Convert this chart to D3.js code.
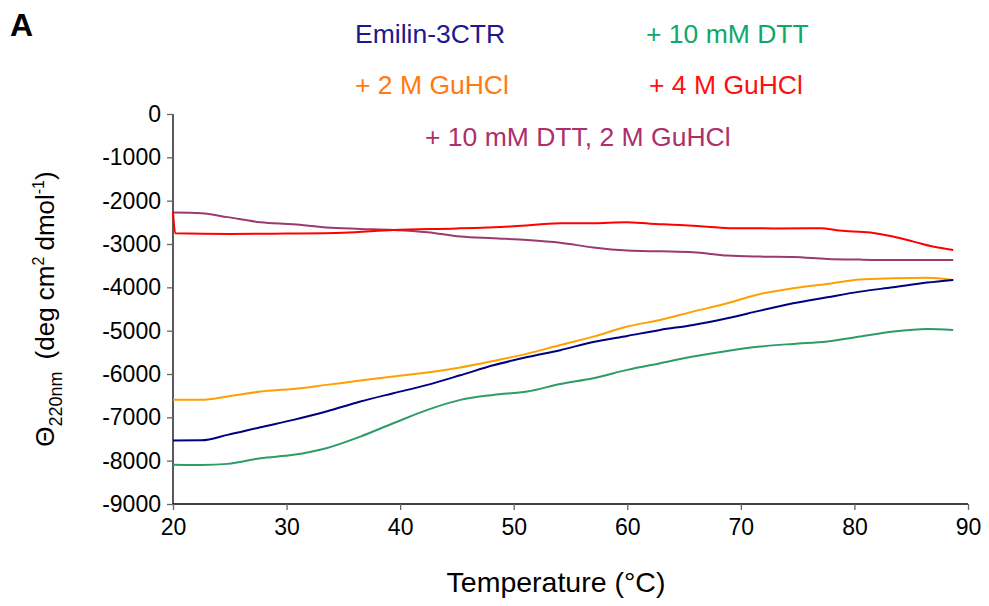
<!DOCTYPE html>
<html><head><meta charset="utf-8">
<script src="https://cdn.jsdelivr.net/npm/d3@7"></script>
<style>body{margin:0;background:#fff}svg{display:block;font-family:"Liberation Sans",Arial,sans-serif}</style>
</head><body><svg id="c" width="989" height="606"></svg>
<script>
const temps = [20, 22.5, 24.8, 27.7, 30.6, 33.5, 36.5, 39.4, 42.4, 45.3, 48.2, 51.2, 54.1, 57.0, 60.0, 62.9, 65.8, 68.8, 71.7, 74.6, 77.6, 80.5, 83.4, 86.4, 88.7];
const emilin = [-7536, -7530, -7405, -7228, -7059, -6867, -6636, -6444, -6251, -6030, -5800, -5610, -5450, -5260, -5121, -4983, -4867, -4713, -4537, -4368, -4229, -4099, -3999, -3891, -3829];
const dtt = [-8097, -8100, -8074, -7943, -7866, -7712, -7444, -7136, -6828, -6597, -6482, -6405, -6230, -6098, -5905, -5751, -5598, -5467, -5367, -5305, -5252, -5137, -5021, -4960, -4983];
const gu2 = [-6597, -6597, -6521, -6405, -6344, -6251, -6152, -6059, -5967, -5850, -5700, -5530, -5330, -5137, -4906, -4752, -4560, -4368, -4152, -4022, -3922, -3820, -3791, -3776, -3829];
const dttGu2 = [-2275, -2290, -2380, -2498, -2545, -2622, -2652, -2676, -2729, -2829, -2868, -2907, -2970, -3080, -3150, -3170, -3191, -3268, -3291, -3300, -3345, -3360, -3368, -3368, -3368];
const redTemps = [20, 20.2, 25, 30, 35, 39.4, 45, 50, 54.1, 57, 59.9, 62, 64.6, 67, 69.3, 73, 77, 78.7, 81.4, 83.4, 85.2, 86.9, 88.7];
const gu4 = [-2254, -2752, -2770, -2760, -2740, -2676, -2640, -2590, -2522, -2520, -2500, -2530, -2560, -2600, -2637, -2640, -2637, -2690, -2737, -2829, -2945, -3060, -3137];
const xTicks = [20, 30, 40, 50, 60, 70, 80, 90];
const yTicks = [0, -1000, -2000, -3000, -4000, -5000, -6000, -7000, -8000, -9000];

const series = [
  {name: "+ 10 mM DTT, 2 M GuHCl", t: temps, v: dttGu2, line: "#9c3a70", text: "#ad2f6c"},
  {name: "+ 4 M GuHCl", t: redTemps, v: gu4, line: "#ff0000", text: "#ff1010"},
  {name: "+ 2 M GuHCl", t: temps, v: gu2, line: "#ffa000", text: "#ff7b12"},
  {name: "+ 10 mM DTT", t: temps, v: dtt, line: "#2e9b68", text: "#0ea86a"},
  {name: "Emilin-3CTR", t: temps, v: emilin, line: "#000080", text: "#1c1a8c"}
];

const svg = d3.select("#c");
const L = 173, R = 968, T = 114, B = 504;
const x = d3.scaleLinear().domain([20, 90]).range([L, R]);
const y = d3.scaleLinear().domain([-9000, 0]).range([B, T]);

svg.append("text").attr("x", 10).attr("y", 36).attr("font-size", 32).attr("font-weight", "bold").text("A");

// axes
const xa = svg.append("g").attr("transform", `translate(0,${B})`)
  .call(d3.axisBottom(x).tickValues(xTicks).tickSize(6).tickPadding(9).tickFormat(d3.format("d")));
const ya = svg.append("g").attr("transform", `translate(${L},0)`)
  .call(d3.axisLeft(y).tickValues(yTicks).tickSize(6).tickPadding(6).tickFormat(d => d));
[xa, ya].forEach(a => {
  a.select(".domain").attr("stroke", "#000").attr("stroke-width", 1.3);
  a.selectAll(".tick line").attr("stroke", "#666").attr("stroke-width", 1.3);
  a.selectAll(".tick text").attr("font-size", 23).attr("fill", "#000").attr("font-family", "Liberation Sans, Arial, sans-serif");
});
ya.select(".domain").attr("d", `M0,${T}V${B}`);
xa.select(".domain").attr("d", `M${L},0H${R}`);

// lines
const line = d3.line().x(d => x(d[0])).y(d => y(d[1])).curve(d3.curveMonotoneX);
series.forEach(s => {
  svg.append("path").datum(s.t.map((t, i) => [t, s.v[i]]))
    .attr("fill", "none").attr("stroke", s.line).attr("stroke-width", 2).attr("d", line);
});

// legend
const legendPos = {
  "Emilin-3CTR": [355, 43], "+ 10 mM DTT": [646, 43],
  "+ 2 M GuHCl": [355, 94], "+ 4 M GuHCl": [649, 94],
  "+ 10 mM DTT, 2 M GuHCl": [425, 146]
};
series.forEach(s => {
  const p = legendPos[s.name];
  svg.append("text").attr("x", p[0]).attr("y", p[1]).attr("font-size", 26.5).attr("fill", s.text).text(s.name);
});

// axis titles
svg.append("text").attr("x", 556).attr("y", 592).attr("text-anchor", "middle")
  .attr("font-size", 28.5).text("Temperature (°C)");
const yt = svg.append("text").attr("transform", "translate(54,309) rotate(-90)")
  .attr("text-anchor", "middle").attr("font-size", 26);
yt.append("tspan").text("Θ");
yt.append("tspan").attr("font-size", 18).attr("dy", 8).text("220nm");
yt.append("tspan").attr("dy", -8).attr("dx", 12).text("(deg cm");
yt.append("tspan").attr("font-size", 16).attr("dy", -10).text("2");
yt.append("tspan").attr("dy", 10).attr("dx", 6).text("dmol");
yt.append("tspan").attr("font-size", 16).attr("dy", -10).text("-1");
yt.append("tspan").attr("dy", 10).text(")");
</script></body></html>
